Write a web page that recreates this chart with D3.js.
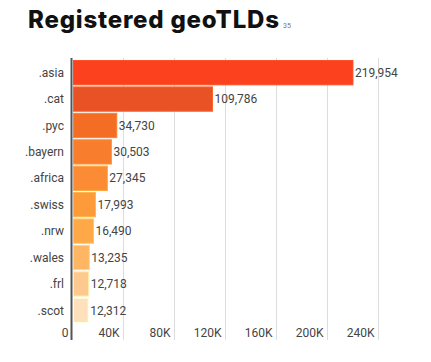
<!DOCTYPE html>
<html>
<head>
<meta charset="utf-8">
<script src="https://cdn.jsdelivr.net/npm/d3@7"></script>
<style>
  body { margin: 0; background: #fff; }
  svg { display: block; }
</style>
</head>
<body>
<svg id="chart" width="431" height="362"></svg>
<script>
// chart data
const tlds = [".asia", ".cat", ".pyc", ".bayern", ".africa", ".swiss", ".nrw", ".wales", ".frl", ".scot"];
const registrations = [219954, 109786, 34730, 30503, 27345, 17993, 16490, 13235, 12718, 12312];
const barColors = ["#fc411f", "#e95224", "#f46d25", "#f87d2d", "#fb8c35", "#fd9a3a", "#fea848", "#feb665", "#fec98f", "#fee0bd"];
const tickValues = [0, 40000, 80000, 120000, 160000, 200000, 240000];
const tickLabels = ["0", "40K", "80K", "120K", "160K", "200K", "240K"];

const svg = d3.select("#chart");

// title
svg.append("text")
    .attr("x", 28)
    .attr("y", 28)
    .attr("font-family", "Inter, 'Open Sans', sans-serif")
    .attr("font-weight", 800)
    .attr("font-size", 24)
    .attr("letter-spacing", 0.8)
    .attr("fill", "#111")
    .text("Registered geoTLDs");

svg.append("text")
    .attr("x", 283)
    .attr("y", 28)
    .attr("font-family", "Roboto, sans-serif")
    .attr("font-size", 7)
    .attr("fill", "#777")
    .text("35");

const x = d3.scaleLinear()
    .domain([0, 240000])
    .range([72.5, 378.5]);

const y = d3.scaleBand()
    .domain(tlds)
    .range([60, 323])
    .paddingInner(0.08)
    .paddingOuter(0.02);

// gridlines
svg.append("g")
    .selectAll("line")
    .data(tickValues.slice(1))
    .join("line")
    .attr("x1", d => x(d))
    .attr("x2", d => x(d))
    .attr("y1", 58)
    .attr("y2", 340)
    .attr("stroke", "#ddd")
    .attr("stroke-width", 1);

// bars
svg.append("g")
    .selectAll("rect")
    .data(tlds)
    .join("rect")
    .attr("x", x(0) + 1)
    .attr("y", d => y(d))
    .attr("width", (d, i) => x(registrations[i]) - x(0) - 1)
    .attr("height", y.bandwidth())
    .attr("fill", (d, i) => barColors[i])
    .attr("stroke", (d, i) => d3.color(barColors[i]).brighter(0.5))
    .attr("stroke-width", 1);

// value labels
svg.append("g")
    .selectAll("text")
    .data(tlds)
    .join("text")
    .attr("x", (d, i) => x(registrations[i]) + 2)
    .attr("y", d => y(d) + y.bandwidth() / 2)
    .attr("dy", "0.35em")
    .attr("font-family", "Roboto, sans-serif")
    .attr("font-size", 12)
    .attr("fill", "#444")
    .text((d, i) => d3.format(",")(registrations[i]));

// category labels
svg.append("g")
    .selectAll("text")
    .data(tlds)
    .join("text")
    .attr("x", 64)
    .attr("y", d => y(d) + y.bandwidth() / 2)
    .attr("dy", "0.35em")
    .attr("text-anchor", "end")
    .attr("font-family", "Roboto, sans-serif")
    .attr("font-size", 12)
    .attr("fill", "#444")
    .text(d => d);

// x tick labels, right aligned just left of each gridline
svg.append("g")
    .selectAll("text")
    .data(tickValues)
    .join("text")
    .attr("x", d => x(d) - 4)
    .attr("y", 333)
    .attr("dy", "0.35em")
    .attr("text-anchor", "end")
    .attr("font-family", "Roboto, sans-serif")
    .attr("font-size", 12)
    .attr("fill", "#444")
    .text((d, i) => tickLabels[i]);

// y axis line
svg.append("line")
    .attr("x1", 71.5)
    .attr("x2", 71.5)
    .attr("y1", 58)
    .attr("y2", 340)
    .attr("stroke", "#555")
    .attr("stroke-width", 2);
</script>
</body>
</html>
